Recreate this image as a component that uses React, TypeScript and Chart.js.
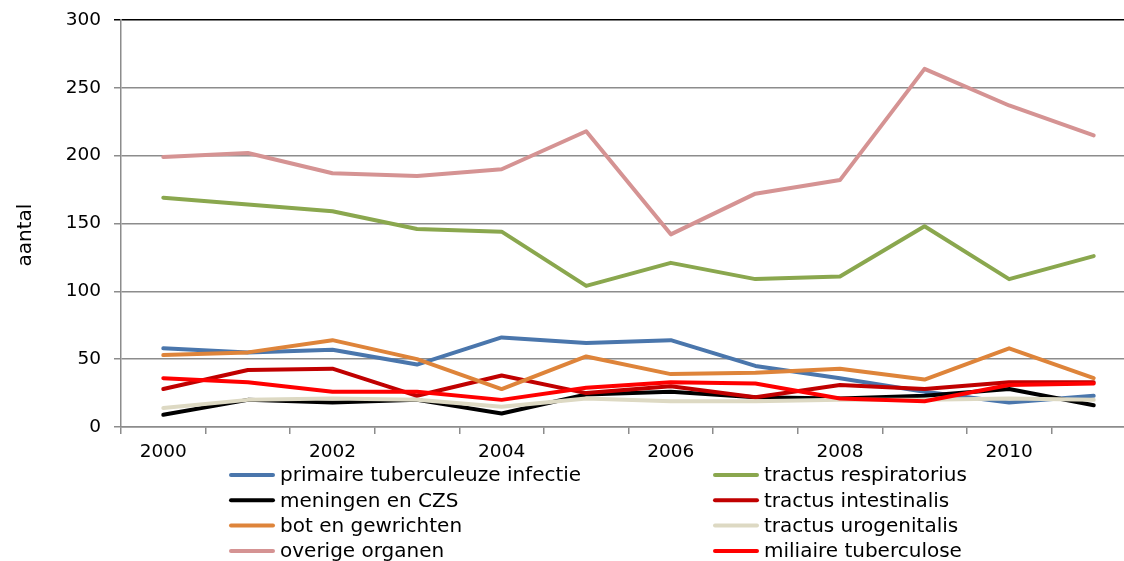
import React, { useEffect, useRef } from "react";
import { Chart, registerables } from "chart.js";

Chart.register(...registerables);

const years = ["2000", "2001", "2002", "2003", "2004", "2005", "2006", "2007", "2008", "2009", "2010", "2011"];
const shownTickLabels = ["2000", "2002", "2004", "2006", "2008", "2010"];
const yAxisTitle = "aantal";

const seriesNames = [
  "primaire tuberculeuze infectie",
  "tractus respiratorius",
  "meningen en CZS",
  "tractus intestinalis",
  "bot en gewrichten",
  "tractus urogenitalis",
  "overige organen",
  "miliaire tuberculose",
];

const primaire = [58, 55, 57, 46, 66, 62, 64, 45, 36, 26, 18, 23];
const respiratorius = [169, 164, 159, 146, 144, 104, 121, 109, 111, 148, 109, 126];
const meningen = [9, 20, 18, 20, 10, 24, 26, 22, 21, 23, 28, 16];
const intestinalis = [28, 42, 43, 23, 38, 25, 30, 22, 31, 28, 33, 33];
const bot = [53, 55, 64, 50, 28, 52, 39, 40, 43, 35, 58, 36];
const urogenitalis = [14, 20, 21, 20, 15, 21, 19, 19, 20, 20, 21, 20];
const overige = [199, 202, 187, 185, 190, 218, 142, 172, 182, 264, 237, 215];
const miliaire = [36, 33, 26, 26, 20, 29, 33, 32, 21, 19, 31, 32];

const seriesValues = [primaire, respiratorius, meningen, intestinalis, bot, urogenitalis, overige, miliaire];
const seriesColors = ["#4A76AC", "#8AA74E", "#000000", "#C00000", "#DE843A", "#DDD9C3", "#D59393", "#FF0000"];

const FONT = "'DejaVu Sans', Verdana, sans-serif";

const customPlugin = {
  id: "customLegendTitle",
  afterDraw(chart: any) {
    const ctx = chart.ctx as CanvasRenderingContext2D;
    ctx.save();
    // y axis title
    ctx.fillStyle = "#000";
    ctx.font = `20px ${FONT}`;
    ctx.translate(26, 235);
    ctx.rotate(-Math.PI / 2);
    ctx.textAlign = "center";
    ctx.textBaseline = "middle";
    ctx.fillText(yAxisTitle, 0, 0);
    ctx.restore();

    // legend in two columns
    ctx.save();
    ctx.font = `20px ${FONT}`;
    ctx.textBaseline = "middle";
    ctx.textAlign = "left";
    const colX = [231, 715];
    const rowY0 = 475;
    const rowH = 25.3;
    chart.data.datasets.forEach((ds: any, i: number) => {
      const col = i % 2;
      const row = Math.floor(i / 2);
      const x = colX[col];
      const y = rowY0 + row * rowH;
      ctx.strokeStyle = ds.borderColor;
      ctx.lineWidth = 4;
      ctx.lineCap = "round";
      ctx.beginPath();
      ctx.moveTo(x, y);
      ctx.lineTo(x + 42, y);
      ctx.stroke();
      ctx.fillStyle = "#000";
      ctx.fillText(ds.label, x + 49, y + 1);
    });
    ctx.restore();
  },
};

export default function App() {
  const canvasRef = useRef<HTMLCanvasElement | null>(null);

  useEffect(() => {
    document.body.style.overflow = "hidden";
    const canvas = canvasRef.current!;
    const n = seriesNames.length;
    const chart = new Chart(canvas, {
      type: "line",
      data: {
        labels: years,
        datasets: seriesNames.map((name, i) => ({
          label: name,
          data: seriesValues[i],
          borderColor: seriesColors[i],
          backgroundColor: seriesColors[i],
          borderWidth: 4,
          pointRadius: 0,
          pointHoverRadius: 0,
          tension: 0,
          borderCapStyle: "round" as const,
          borderJoinStyle: "round" as const,
          order: n - i,
        })),
      },
      options: {
        animation: false,
        responsive: false,
        devicePixelRatio: 1,
        layout: { padding: { top: 20, right: 4, left: 0, bottom: 0 } },
        plugins: {
          legend: { display: false },
          tooltip: { enabled: false },
          title: { display: false },
        },
        scales: {
          x: {
            type: "category",
            offset: true,
            afterFit: (scale: any) => {
              scale.height = 134;
            },
            grid: {
              display: true,
              offset: true,
              drawOnChartArea: false,
              drawTicks: true,
              tickLength: 7,
              color: "#8c8c8c",
              lineWidth: 1.5,
            },
            border: { display: true, color: "#8c8c8c", width: 1.5 },
            ticks: {
              autoSkip: false,
              maxRotation: 0,
              padding: 7,
              color: "#000",
              font: { family: FONT, size: 18.5 },
              callback: function (this: any, value: any) {
                const lab = this.getLabelForValue(value);
                return shownTickLabels.includes(lab) ? lab : "";
              },
            },
          },
          y: {
            min: 0,
            max: 300,
            afterFit: (scale: any) => {
              scale.width = 121;
            },
            grid: {
              color: (ctx: any) => (ctx.tick && ctx.tick.value === 300 ? "#000000" : "#8c8c8c"),
              lineWidth: 1.5,
              tickLength: 7,
              drawTicks: true,
            },
            border: { display: true, color: "#8c8c8c", width: 1.5 },
            ticks: {
              stepSize: 50,
              padding: 13,
              color: "#000",
              font: { family: FONT, size: 18.5, lineHeight: 0.3 },
            },
          },
        },
      },
      plugins: [customPlugin],
    });
    return () => chart.destroy();
  }, []);

  return (
    <div style={{ position: "fixed", left: 0, top: 0, width: 1140, height: 561, background: "#fff" }}>
      <canvas ref={canvasRef} width={1140} height={561} style={{ width: 1140, height: 561, display: "block" }} />
    </div>
  );
}
